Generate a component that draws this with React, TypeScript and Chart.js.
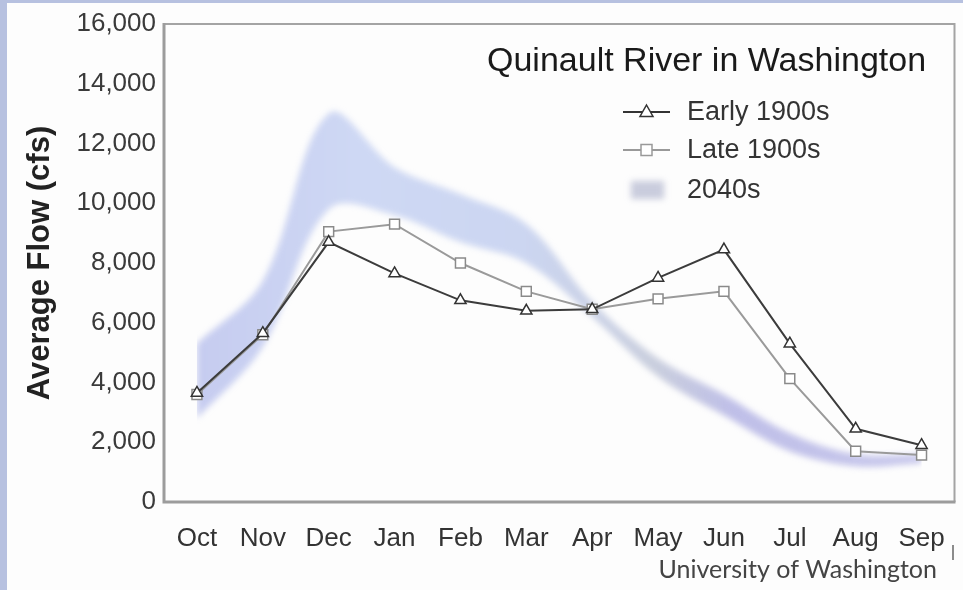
import React, { useEffect, useRef } from "react";
import { Chart, registerables } from "chart.js";

const months = ["Oct", "Nov", "Dec", "Jan", "Feb", "Mar", "Apr", "May", "Jun", "Jul", "Aug", "Sep"];
const early1900s = [3650, 5650, 8700, 7650, 6750, 6400, 6450, 7500, 8450, 5300, 2450, 1900];
const late1900s = [3600, 5600, 9050, 9300, 8000, 7050, 6450, 6800, 7050, 4130, 1700, 1570];
const band2040sHigh = [5300, 7400, 13000, 11200, 10300, 9300, 6700, 4800, 3600, 2300, 1600, 1600];
const band2040sLow = [2800, 5200, 9800, 9600, 8700, 8000, 6200, 4200, 2900, 1700, 1200, 1300];
const yMin = 0;
const yMax = 16000;
const yStep = 2000;

const chartTitle = "Quinault River in Washington";
const legendLabels = ["Early 1900s", "Late 1900s", "2040s"];
const yAxisTitle = "Average Flow (cfs)";
const credit = "University of Washington";

const FONT = '"Liberation Sans", Arial, Helvetica, sans-serif';

// blur plugin, registered before the built-in filler so it wraps the band fill
const blurPlugin = {
  id: "bandBlur",
  beforeDatasetDraw(chart: any, args: any) {
    const ds = chart.data.datasets[args.index];
    if (ds && ds._blur) {
      chart.ctx.save();
      chart.ctx.filter = "blur(3px)";
    }
  },
  afterDatasetDraw(chart: any, args: any) {
    const ds = chart.data.datasets[args.index];
    if (ds && ds._blur) {
      chart.ctx.restore();
    }
  },
};

Chart.register(blurPlugin as any);
Chart.register(...registerables);

const overlayPlugin = {
  id: "overlay",
  afterDraw(chart: any) {
    const ctx = chart.ctx as CanvasRenderingContext2D;
    const { left, top, right, bottom } = chart.chartArea;
    ctx.save();
    // frame
    ctx.strokeStyle = "#a4a4a4";
    ctx.lineWidth = 2;
    ctx.beginPath();
    ctx.moveTo(left, top);
    ctx.lineTo(right, top);
    ctx.lineTo(right, bottom);
    ctx.stroke();
    ctx.strokeStyle = "#9c9c9c";
    ctx.lineWidth = 3;
    ctx.beginPath();
    ctx.moveTo(left, top - 1);
    ctx.lineTo(left, bottom);
    ctx.lineTo(right + 1, bottom);
    ctx.stroke();

    // title
    ctx.fillStyle = "#1a1a1a";
    ctx.textAlign = "left";
    ctx.textBaseline = "middle";
    ctx.font = `34px ${FONT}`;
    ctx.fillText(chartTitle, left + 323, top + 38);

    // legend
    const lx0 = left + 459;
    const lx1 = left + 506;
    const mx = (lx0 + lx1) / 2;
    const tx = left + 523;
    const rows = [top + 88, top + 126, top + 166];
    ctx.font = `27px ${FONT}`;

    // early 1900s
    ctx.strokeStyle = "#333";
    ctx.lineWidth = 2;
    ctx.beginPath();
    ctx.moveTo(lx0, rows[0]);
    ctx.lineTo(lx1, rows[0]);
    ctx.stroke();
    ctx.fillStyle = "#fff";
    ctx.lineWidth = 1.5;
    ctx.beginPath();
    ctx.moveTo(mx, rows[0] - 7);
    ctx.lineTo(mx + 6.5, rows[0] + 4.5);
    ctx.lineTo(mx - 6.5, rows[0] + 4.5);
    ctx.closePath();
    ctx.fill();
    ctx.stroke();

    // late 1900s
    ctx.strokeStyle = "#999";
    ctx.lineWidth = 2;
    ctx.beginPath();
    ctx.moveTo(lx0, rows[1]);
    ctx.lineTo(lx1, rows[1]);
    ctx.stroke();
    ctx.lineWidth = 1.5;
    ctx.fillStyle = "#fff";
    ctx.fillRect(mx - 5.5, rows[1] - 5.5, 11, 11);
    ctx.strokeRect(mx - 5.5, rows[1] - 5.5, 11, 11);

    // 2040s
    ctx.save();
    ctx.filter = "blur(3px)";
    ctx.fillStyle = "rgba(150,155,190,0.5)";
    ctx.fillRect(lx0 + 8, rows[2] - 9, lx1 - lx0 - 14, 18);
    ctx.restore();

    ctx.fillStyle = "#333";
    legendLabels.forEach((t, i) => ctx.fillText(t, tx, rows[i] + 1));

    // credit
    ctx.font = `25px Lato, "Open Sans", sans-serif`;
    ctx.fillStyle = "#444";
    ctx.textAlign = "right";
    ctx.textBaseline = "alphabetic";
    ctx.fillText(credit, 937, 578);
    ctx.strokeStyle = "#666";
    ctx.lineWidth = 1.5;
    ctx.beginPath();
    ctx.moveTo(953, 545);
    ctx.lineTo(953, 560);
    ctx.stroke();
    ctx.restore();
  },
};

export default function App() {
  const ref = useRef<HTMLCanvasElement | null>(null);

  useEffect(() => {
    if (!ref.current) return;
    const bandColor = (c: any) => {
      const chart = c.chart;
      const area = chart.chartArea;
      if (!area) return "rgba(150,165,225,0.5)";
      const g = chart.ctx.createLinearGradient(area.left, 0, area.right, 0);
      g.addColorStop(0, "rgba(140,150,225,0.5)");
      g.addColorStop(0.25, "rgba(160,180,235,0.5)");
      g.addColorStop(0.45, "rgba(155,175,230,0.5)");
      g.addColorStop(0.62, "rgba(150,160,190,0.5)");
      g.addColorStop(0.72, "rgba(140,140,215,0.55)");
      g.addColorStop(1, "rgba(150,150,220,0.5)");
      return g;
    };
    const chart = new Chart(ref.current, {
      type: "line",
      data: {
        labels: months,
        datasets: [
          {
            label: legendLabels[0],
            data: early1900s,
            borderColor: "#3c3c3c",
            borderWidth: 2,
            pointStyle: "triangle",
            pointRadius: 6.5,
            pointBorderWidth: 1.5,
            pointBackgroundColor: "#ffffff",
            pointBorderColor: "#333",
            tension: 0,
            fill: false,
          },
          {
            label: legendLabels[1],
            data: late1900s,
            borderColor: "#9a9a9a",
            borderWidth: 2,
            pointStyle: "rect",
            pointRadius: 7,
            pointBorderWidth: 1.5,
            pointBackgroundColor: "#ffffff",
            pointBorderColor: "#8a8a8a",
            tension: 0,
            fill: false,
          },
          {
            label: legendLabels[2] + " high",
            data: band2040sHigh,
            borderWidth: 0,
            borderColor: "rgba(0,0,0,0)",
            pointRadius: 0,
            tension: 0.35,
            fill: false,
          },
          {
            label: legendLabels[2] + " low",
            data: band2040sLow,
            borderWidth: 0,
            borderColor: "rgba(0,0,0,0)",
            backgroundColor: bandColor,
            pointRadius: 0,
            tension: 0.35,
            fill: "-1",
            _blur: true,
          } as any,
        ],
      },
      options: {
        responsive: false,
        animation: false,
        devicePixelRatio: 1,
        layout: { padding: { top: 24, right: 5, left: 0, bottom: 0 } },
        plugins: {
          legend: { display: false },
          tooltip: { enabled: false },
        },
        scales: {
          x: {
            type: "category",
            offset: true,
            grid: { display: false, drawTicks: false },
            border: { display: false },
            ticks: {
              color: "#333",
              font: { family: FONT, size: 26 },
              padding: 21,
              maxRotation: 0,
              autoSkip: false,
            },
            afterFit: (s: any) => {
              s.height = 88;
              s.paddingLeft = 0;
              s.paddingRight = 0;
            },
          },
          y: {
            min: yMin,
            max: yMax,
            grid: { display: false, drawTicks: false },
            border: { display: false },
            ticks: {
              stepSize: yStep,
              color: "#3a3a3a",
              font: { family: FONT, size: 26 },
              padding: 8,
              callback: (v: any) => Number(v).toLocaleString("en-US"),
            },
            title: {
              display: true,
              text: yAxisTitle,
              color: "#222",
              font: { family: FONT, size: 31, weight: "bold" },
              padding: { top: 22, bottom: 0 },
            },
            afterFit: (s: any) => {
              s.width = 164;
            },
          },
        },
      },
      plugins: [overlayPlugin],
    });
    return () => chart.destroy();
  }, []);

  return (
    <div style={{ position: "absolute", left: 0, top: 0, width: 963, height: 590, background: "#b7c1e0", overflow: "hidden" }}>
      <div style={{ position: "absolute", left: 7, top: 3, right: 0, bottom: 0, background: "#fdfdfd" }} />
      <canvas ref={ref} width={963} height={590} style={{ position: "absolute", left: 0, top: 0, width: 963, height: 590 }} />
    </div>
  );
}
